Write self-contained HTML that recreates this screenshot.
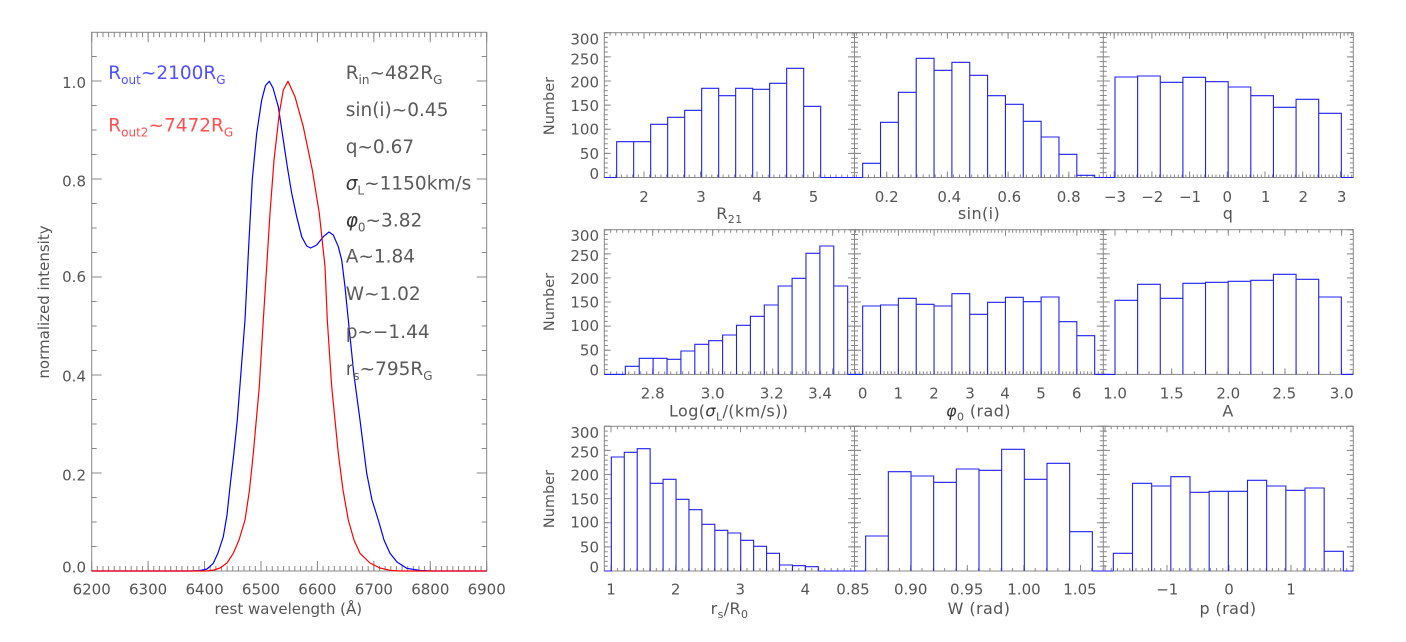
<!DOCTYPE html>
<html><head><meta charset="utf-8"><style>
html,body{margin:0;padding:0;background:#fff;}
svg{display:block;font-family:"DejaVu Sans","Liberation Sans",sans-serif;}
</style></head><body>
<svg width="1406" height="642" viewBox="0 0 1406 642" xmlns="http://www.w3.org/2000/svg">
<rect width="1406" height="642" fill="#fff"/>

<!-- ===== LEFT PLOT ===== -->
<g stroke="#888" fill="none">
<rect x="91.7" y="32.3" width="395" height="538.7" stroke-width="1"/>
<line x1="91.2" y1="568.5" x2="487.3" y2="568.5" stroke-width="5" stroke-dasharray="1 4.643"/>
<line x1="91.2" y1="566" x2="487.3" y2="566" stroke-width="10" stroke-dasharray="1 55.43"/>
<line x1="91.2" y1="34.8" x2="487.3" y2="34.8" stroke-width="5" stroke-dasharray="1 4.643"/>
<line x1="91.2" y1="37.3" x2="487.3" y2="37.3" stroke-width="10" stroke-dasharray="1 55.43"/>
<line x1="94.2" y1="571.5" x2="94.2" y2="32" stroke-width="5" stroke-dasharray="1 23.5"/>
<line x1="96.7" y1="571.5" x2="96.7" y2="32" stroke-width="10" stroke-dasharray="1 97"/>
<line x1="484.2" y1="571.5" x2="484.2" y2="32" stroke-width="5" stroke-dasharray="1 23.5"/>
<line x1="481.7" y1="571.5" x2="481.7" y2="32" stroke-width="10" stroke-dasharray="1 97"/>
</g>

<path fill="none" stroke="#0000ff" stroke-width="1.2" stroke-linejoin="round" d="M91.7,571 L190,571 L200,570.6 L207,569 L213.3,563.3 L218,553 L223.3,536.7 L227,515 L230,486.7 L234,452 L237.3,420 L241,372 L245,320 L248.5,250 L252.3,179.3 L256.7,133.3 L261.7,100 L265.5,85.5 L269.3,81.3 L273,88 L278.3,106.7 L283.3,140 L287.3,166.7 L291.7,193.3 L296.7,216.7 L301.7,236.7 L306.7,246 L310.7,248 L316.7,245 L323.3,236.7 L329,232 L333.3,235 L338.3,246.7 L341.7,260 L345,286.7 L348.3,320 L354,375.3 L360,420 L366.7,473.3 L372,500 L378.3,520 L384,540 L390,553.3 L397,562 L406.7,568.3 L420,570.5 L433,571 L486.7,571"/>
<path fill="none" stroke="#ff0000" stroke-width="1.2" stroke-linejoin="round" d="M91.7,571 L206.7,571 L214,570 L220,568 L227,563 L233.3,553.3 L239,540 L245,520 L249.5,490 L253.3,453.3 L259.3,386.7 L263.3,320 L266.7,266.7 L270,213.3 L274,160 L279.3,113.3 L283.3,90 L288,81.3 L295,96.7 L303.3,126.7 L312.3,170 L319.3,213.3 L325,266.7 L327.3,320 L331.7,386.7 L338.3,453.3 L343,490 L348.3,520 L354,540 L360,553.3 L370,563 L380,568 L390,570.3 L400,571 L486.7,571"/>

<g fill="#555" font-size="15" text-anchor="middle">
<text x="91.7" y="594.7">6200</text>
<text x="148.1" y="594.7">6300</text>
<text x="204.6" y="594.7">6400</text>
<text x="261" y="594.7">6500</text>
<text x="317.4" y="594.7">6600</text>
<text x="373.9" y="594.7">6700</text>
<text x="430.3" y="594.7">6800</text>
<text x="486.7" y="594.7">6900</text>
<text x="288.3" y="614">rest wavelength (Å)</text>
<text transform="translate(49,302) rotate(-90)">normalized intensity</text>
</g>
<g fill="#555" font-size="15" text-anchor="end">
<text x="86" y="87.9">1.0</text>
<text x="86" y="186.4">0.8</text>
<text x="86" y="282.1">0.6</text>
<text x="86" y="381.4">0.4</text>
<text x="86" y="480.4">0.2</text>
<text x="86" y="572.4">0.0</text>
</g>

<g font-size="18.5">
<text x="108.3" y="79" fill="#5050ff">R<tspan font-size="12" dy="5">out</tspan><tspan dy="-5">~2100R</tspan><tspan font-size="12" dy="5">G</tspan></text>
<text x="108.3" y="131.7" fill="#ff5050">R<tspan font-size="12" dy="5">out2</tspan><tspan dy="-5">~7472R</tspan><tspan font-size="12" dy="5">G</tspan></text>
<g fill="#5a5a5a">
<text x="345.7" y="79">R<tspan font-size="12" dy="5">in</tspan><tspan dy="-5">~482R</tspan><tspan font-size="12" dy="5">G</tspan></text>
<text x="345.7" y="116">sin(i)~0.45</text>
<text x="345.7" y="153">q~0.67</text>
<text x="345.7" y="189.5"><tspan font-style="italic" fill="#333">σ</tspan><tspan font-size="12" dy="5">L</tspan><tspan dy="-5">~1150km/s</tspan></text>
<text x="345.7" y="226.5"><tspan font-style="italic" fill="#333">φ</tspan><tspan font-size="12" dy="5">0</tspan><tspan dy="-5">~3.82</tspan></text>
<text x="345.7" y="262.5">A~1.84</text>
<text x="345.7" y="300">W~1.02</text>
<text x="345.7" y="338">p~−1.44</text>
<text x="345.7" y="375">r<tspan font-size="12" dy="5">s</tspan><tspan dy="-5">~795R</tspan><tspan font-size="12" dy="5">G</tspan></text>
</g>
</g>

<!-- ===== HISTOGRAMS ===== -->
<g stroke="#888" fill="none" stroke-width="1">
<rect x="604.3" y="32.7" width="749" height="144.8"/>
<line x1="854.5" y1="32.7" x2="854.5" y2="177.5"/>
<line x1="1103.3" y1="32.7" x2="1103.3" y2="177.5"/>
<rect x="604.3" y="229.7" width="749" height="144.7"/>
<line x1="854.5" y1="229.7" x2="854.5" y2="374.4"/>
<line x1="1103.3" y1="229.7" x2="1103.3" y2="374.4"/>
<rect x="604.3" y="426.3" width="749" height="144.7"/>
<line x1="854.5" y1="426.3" x2="854.5" y2="571"/>
<line x1="1103.3" y1="426.3" x2="1103.3" y2="571"/>
</g>

<!-- y ticks -->
<g stroke="#888" fill="none">
<line x1="606.05" y1="178" x2="606.05" y2="32.2" stroke-width="3.5" stroke-dasharray="1 3.827"/>
<line x1="854.5" y1="178" x2="854.5" y2="32.2" stroke-width="7" stroke-dasharray="1 3.827"/>
<line x1="1103.3" y1="178" x2="1103.3" y2="32.2" stroke-width="7" stroke-dasharray="1 3.827"/>
<line x1="1351.55" y1="178" x2="1351.55" y2="32.2" stroke-width="3.5" stroke-dasharray="1 3.827"/>
<line x1="607.55" y1="178" x2="607.55" y2="32.2" stroke-width="6.5" stroke-dasharray="1 23.13"/>
<line x1="854.5" y1="178" x2="854.5" y2="32.2" stroke-width="13" stroke-dasharray="1 23.13"/>
<line x1="1103.3" y1="178" x2="1103.3" y2="32.2" stroke-width="13" stroke-dasharray="1 23.13"/>
<line x1="1350.05" y1="178" x2="1350.05" y2="32.2" stroke-width="6.5" stroke-dasharray="1 23.13"/>

<line x1="606.05" y1="374.9" x2="606.05" y2="229.2" stroke-width="3.5" stroke-dasharray="1 3.823"/>
<line x1="854.5" y1="374.9" x2="854.5" y2="229.2" stroke-width="7" stroke-dasharray="1 3.823"/>
<line x1="1103.3" y1="374.9" x2="1103.3" y2="229.2" stroke-width="7" stroke-dasharray="1 3.823"/>
<line x1="1351.55" y1="374.9" x2="1351.55" y2="229.2" stroke-width="3.5" stroke-dasharray="1 3.823"/>
<line x1="607.55" y1="374.9" x2="607.55" y2="229.2" stroke-width="6.5" stroke-dasharray="1 23.117"/>
<line x1="854.5" y1="374.9" x2="854.5" y2="229.2" stroke-width="13" stroke-dasharray="1 23.117"/>
<line x1="1103.3" y1="374.9" x2="1103.3" y2="229.2" stroke-width="13" stroke-dasharray="1 23.117"/>
<line x1="1350.05" y1="374.9" x2="1350.05" y2="229.2" stroke-width="6.5" stroke-dasharray="1 23.117"/>

<line x1="606.05" y1="571.5" x2="606.05" y2="425.8" stroke-width="3.5" stroke-dasharray="1 3.823"/>
<line x1="854.5" y1="571.5" x2="854.5" y2="425.8" stroke-width="7" stroke-dasharray="1 3.823"/>
<line x1="1103.3" y1="571.5" x2="1103.3" y2="425.8" stroke-width="7" stroke-dasharray="1 3.823"/>
<line x1="1351.55" y1="571.5" x2="1351.55" y2="425.8" stroke-width="3.5" stroke-dasharray="1 3.823"/>
<line x1="607.55" y1="571.5" x2="607.55" y2="425.8" stroke-width="6.5" stroke-dasharray="1 23.117"/>
<line x1="854.5" y1="571.5" x2="854.5" y2="425.8" stroke-width="13" stroke-dasharray="1 23.117"/>
<line x1="1103.3" y1="571.5" x2="1103.3" y2="425.8" stroke-width="13" stroke-dasharray="1 23.117"/>
<line x1="1350.05" y1="571.5" x2="1350.05" y2="425.8" stroke-width="6.5" stroke-dasharray="1 23.117"/>
</g>

<!-- x ticks -->
<g stroke="#888" fill="none">
<!-- row1 -->
<line x1="603.95" y1="176" x2="854.5" y2="176" stroke-width="3" stroke-dasharray="1 4.65"/>
<line x1="643.5" y1="174.5" x2="854.5" y2="174.5" stroke-width="6" stroke-dasharray="1 55.5"/>
<line x1="603.95" y1="34.2" x2="854.5" y2="34.2" stroke-width="3" stroke-dasharray="1 4.65"/>
<line x1="643.5" y1="35.7" x2="854.5" y2="35.7" stroke-width="6" stroke-dasharray="1 55.5"/>
<line x1="855.85" y1="176" x2="1103.3" y2="176" stroke-width="3" stroke-dasharray="1 5.07"/>
<line x1="886.2" y1="174.5" x2="1103.3" y2="174.5" stroke-width="6" stroke-dasharray="1 59.7"/>
<line x1="855.85" y1="34.2" x2="1103.3" y2="34.2" stroke-width="3" stroke-dasharray="1 5.07"/>
<line x1="886.2" y1="35.7" x2="1103.3" y2="35.7" stroke-width="6" stroke-dasharray="1 59.7"/>
<line x1="1106.16" y1="176" x2="1353.3" y2="176" stroke-width="3" stroke-dasharray="1 2.77"/>
<line x1="1113.7" y1="174.5" x2="1353.3" y2="174.5" stroke-width="6" stroke-dasharray="1 36.7"/>
<line x1="1106.16" y1="34.2" x2="1353.3" y2="34.2" stroke-width="3" stroke-dasharray="1 2.77"/>
<line x1="1113.7" y1="35.7" x2="1353.3" y2="35.7" stroke-width="6" stroke-dasharray="1 36.7"/>
<!-- row2 -->
<line x1="604.2" y1="372.9" x2="854.5" y2="372.9" stroke-width="3" stroke-dasharray="1 5"/>
<line x1="652.2" y1="371.4" x2="854.5" y2="371.4" stroke-width="6" stroke-dasharray="1 59"/>
<line x1="604.2" y1="231.2" x2="854.5" y2="231.2" stroke-width="3" stroke-dasharray="1 5"/>
<line x1="652.2" y1="232.7" x2="854.5" y2="232.7" stroke-width="6" stroke-dasharray="1 59"/>
<line x1="855.06" y1="372.9" x2="1103.3" y2="372.9" stroke-width="3" stroke-dasharray="1 2.57"/>
<line x1="862.2" y1="371.4" x2="1103.3" y2="371.4" stroke-width="6" stroke-dasharray="1 34.7"/>
<line x1="855.06" y1="231.2" x2="1103.3" y2="231.2" stroke-width="3" stroke-dasharray="1 2.57"/>
<line x1="862.2" y1="232.7" x2="1103.3" y2="232.7" stroke-width="6" stroke-dasharray="1 34.7"/>
<line x1="1103.17" y1="372.9" x2="1353.3" y2="372.9" stroke-width="3" stroke-dasharray="1 10.33"/>
<line x1="1114.5" y1="371.4" x2="1353.3" y2="371.4" stroke-width="6" stroke-dasharray="1 55.65"/>
<line x1="1103.17" y1="231.2" x2="1353.3" y2="231.2" stroke-width="3" stroke-dasharray="1 10.33"/>
<line x1="1114.5" y1="232.7" x2="1353.3" y2="232.7" stroke-width="6" stroke-dasharray="1 55.65"/>
<!-- row3 -->
<line x1="604.02" y1="569.5" x2="854.5" y2="569.5" stroke-width="3" stroke-dasharray="1 5.477"/>
<line x1="610.5" y1="568" x2="854.5" y2="568" stroke-width="6" stroke-dasharray="1 63.77"/>
<line x1="604.02" y1="427.8" x2="854.5" y2="427.8" stroke-width="3" stroke-dasharray="1 5.477"/>
<line x1="610.5" y1="429.3" x2="854.5" y2="429.3" stroke-width="6" stroke-dasharray="1 63.77"/>
<line x1="864.92" y1="569.5" x2="1103.3" y2="569.5" stroke-width="3" stroke-dasharray="1 10.32"/>
<line x1="910.2" y1="568" x2="1103.3" y2="568" stroke-width="6" stroke-dasharray="1 55.6"/>
<line x1="864.92" y1="427.8" x2="1103.3" y2="427.8" stroke-width="3" stroke-dasharray="1 10.32"/>
<line x1="910.2" y1="429.3" x2="1103.3" y2="429.3" stroke-width="6" stroke-dasharray="1 55.6"/>
<line x1="1104.5" y1="569.5" x2="1353.3" y2="569.5" stroke-width="3" stroke-dasharray="1 5.2"/>
<line x1="1104.5" y1="568" x2="1353.3" y2="568" stroke-width="6" stroke-dasharray="1 61"/>
<line x1="1104.5" y1="427.8" x2="1353.3" y2="427.8" stroke-width="3" stroke-dasharray="1 5.2"/>
<line x1="1104.5" y1="429.3" x2="1353.3" y2="429.3" stroke-width="6" stroke-dasharray="1 61"/>
</g>

<!-- histogram bars -->
<g fill="none" stroke="#2020f0" stroke-width="1.1">
<path d="M604.3,177.5H616.67 M616.67,177.5V141.67H633.67V177.5 M633.67,177.5V141.67H650.67V177.5 M650.67,177.5V124.33H667.67V177.5 M667.67,177.5V117.33H684.67V177.5 M684.67,177.5V110.33H701.67V177.5 M701.67,177.5V88.33H718.67V177.5 M718.67,177.5V95.67H735.67V177.5 M735.67,177.5V88.33H752.67V177.5 M752.67,177.5V89.33H769.67V177.5 M769.67,177.5V83.33H786.67V177.5 M786.67,177.5V68.33H803.67V177.5 M803.67,177.5V106.33H820.67V177.5 M820.67,177.5H854.5"/>
<path d="M854.5,177.5H862.67 M862.67,177.5V163.33H880.52V177.5 M880.52,177.5V122.33H898.36V177.5 M898.36,177.5V92.33H916.21V177.5 M916.21,177.5V58.33H934.05V177.5 M934.05,177.5V70.33H951.9V177.5 M951.9,177.5V62.33H969.74V177.5 M969.74,177.5V75.33H987.59V177.5 M987.59,177.5V95.67H1005.44V177.5 M1005.44,177.5V104.33H1023.28V177.5 M1023.28,177.5V121.33H1041.13V177.5 M1041.13,177.5V137H1058.97V177.5 M1058.97,177.5V154.33H1076.82V177.5 M1076.82,177.5V175.33H1094.67V177.5 M1094.67,177.5H1103.3"/>
<path d="M1103.3,177.5H1115 M1115,177.5V77H1137.63V177.5 M1137.63,177.5V76H1160.27V177.5 M1160.27,177.5V82.33H1182.9V177.5 M1182.9,177.5V77.33H1205.53V177.5 M1205.53,177.5V81.67H1228.17V177.5 M1228.17,177.5V87H1250.8V177.5 M1250.8,177.5V95.67H1273.43V177.5 M1273.43,177.5V107.33H1296.07V177.5 M1296.07,177.5V99.33H1318.7V177.5 M1318.7,177.5V113.33H1341.33V177.5 M1341.33,177.5H1353.3"/>

<path d="M604.3,374.4H625.33 M625.33,374.4V366.33H639.23V374.4 M639.23,374.4V358.33H653.12V374.4 M653.12,374.4V358.33H667.02V374.4 M667.02,374.4V359.33H680.92V374.4 M680.92,374.4V351H694.81V374.4 M694.81,374.4V344.33H708.71V374.4 M708.71,374.4V340.67H722.6V374.4 M722.6,374.4V335H736.5V374.4 M736.5,374.4V325.33H750.4V374.4 M750.4,374.4V316.33H764.29V374.4 M764.29,374.4V305H778.19V374.4 M778.19,374.4V286H792.08V374.4 M792.08,374.4V278.33H805.98V374.4 M805.98,374.4V253.33H819.88V374.4 M819.88,374.4V246H833.77V374.4 M833.77,374.4V286H847.67V374.4 M847.67,374.4H854.5"/>
<path d="M854.5,374.4H862.67 M862.67,374.4V306H880.52V374.4 M880.52,374.4V305H898.36V374.4 M898.36,374.4V298.33H916.21V374.4 M916.21,374.4V304.33H934.05V374.4 M934.05,374.4V306H951.9V374.4 M951.9,374.4V293.67H969.74V374.4 M969.74,374.4V314.33H987.59V374.4 M987.59,374.4V302.33H1005.44V374.4 M1005.44,374.4V297.33H1023.28V374.4 M1023.28,374.4V301.67H1041.13V374.4 M1041.13,374.4V297H1058.97V374.4 M1058.97,374.4V321.67H1076.82V374.4 M1076.82,374.4V335.67H1094.67V374.4 M1094.67,374.4H1103.3"/>
<path d="M1103.3,374.4H1115 M1115,374.4V300.33H1137.63V374.4 M1137.63,374.4V284.33H1160.27V374.4 M1160.27,374.4V298.33H1182.9V374.4 M1182.9,374.4V283.33H1205.53V374.4 M1205.53,374.4V282.33H1228.17V374.4 M1228.17,374.4V281.33H1250.8V374.4 M1250.8,374.4V280.33H1273.43V374.4 M1273.43,374.4V274.33H1296.07V374.4 M1296.07,374.4V279.33H1318.7V374.4 M1318.7,374.4V297H1341.33V374.4 M1341.33,374.4H1353.3"/>

<path d="M604.3,571H611.33 M611.33,571V457H624.27V571 M624.27,571V452.33H637.21V571 M637.21,571V448.67H650.14V571 M650.14,571V483.33H663.08V571 M663.08,571V479.33H676.02V571 M676.02,571V499.33H688.96V571 M688.96,571V509.67H701.89V571 M701.89,571V524.33H714.83V571 M714.83,571V530.33H727.77V571 M727.77,571V533H740.71V571 M740.71,571V540.33H753.64V571 M753.64,571V546.33H766.58V571 M766.58,571V553.33H779.52V571 M779.52,571V565H792.46V571 M792.46,571V565.67H805.39V571 M805.39,571V566.67H818.33V571 M818.33,571H854.5"/>
<path d="M854.5,571H865.67 M865.67,571V536H888.33V571 M888.33,571V471.67H911V571 M911,571V476H933.67V571 M933.67,571V482.33H956.33V571 M956.33,571V469H979V571 M979,571V470.33H1001.67V571 M1001.67,571V449.33H1024.33V571 M1024.33,571V479.33H1047V571 M1047,571V463.33H1069.67V571 M1069.67,571V531.67H1092.33V571 M1092.33,571H1103.3"/>
<path d="M1103.3,571H1113.33 M1113.33,571V553.33H1132.5V571 M1132.5,571V483.33H1151.67V571 M1151.67,571V486H1170.83V571 M1170.83,571V476.67H1190V571 M1190,571V492.33H1209.17V571 M1209.17,571V491.33H1228.33V571 M1228.33,571V491.33H1247.5V571 M1247.5,571V480.33H1266.67V571 M1266.67,571V486H1285.83V571 M1285.83,571V490.33H1305V571 M1305,571V488H1324.17V571 M1324.17,571V551.33H1343.33V571 M1343.33,571H1353.3"/>
</g>

<!-- histogram y labels -->
<g fill="#555" font-size="15" text-anchor="end">
<text x="599" y="44.6">300</text><text x="599" y="64.4">250</text><text x="599" y="87.4">200</text><text x="599" y="111.1">150</text><text x="599" y="134.4">100</text><text x="599" y="159.1">50</text><text x="599" y="179.1">0</text>
<text x="599" y="241.1">300</text><text x="599" y="260.9">250</text><text x="599" y="283.9">200</text><text x="599" y="307.6">150</text><text x="599" y="330.9">100</text><text x="599" y="355.6">50</text><text x="599" y="375.6">0</text>
<text x="599" y="437.9">300</text><text x="599" y="457.7">250</text><text x="599" y="480.7">200</text><text x="599" y="504.4">150</text><text x="599" y="527.7">100</text><text x="599" y="552.4">50</text><text x="599" y="572.4">0</text>
</g>

<!-- histogram x labels -->
<g fill="#555" font-size="15" text-anchor="middle">
<text x="644" y="202">2</text><text x="701" y="202">3</text><text x="757" y="202">4</text><text x="813.5" y="202">5</text>
<text x="886.7" y="202">0.2</text><text x="949.3" y="202">0.4</text><text x="1009.3" y="202">0.6</text><text x="1068.7" y="202">0.8</text>
<text x="1115" y="202">−3</text><text x="1152.3" y="202">−2</text><text x="1190" y="202">−1</text><text x="1227.3" y="202">0</text><text x="1265.7" y="202">1</text><text x="1303.3" y="202">2</text><text x="1341.7" y="202">3</text>

<text x="652.7" y="398.7">2.8</text><text x="712.7" y="398.7">3.0</text><text x="771.7" y="398.7">3.2</text><text x="820" y="398.7">3.4</text>
<text x="862.7" y="398.7">0</text><text x="898.3" y="398.7">1</text><text x="934" y="398.7">2</text><text x="970" y="398.7">3</text><text x="1005" y="398.7">4</text><text x="1041" y="398.7">5</text><text x="1076.7" y="398.7">6</text>
<text x="1115" y="398.7">1.0</text><text x="1171.7" y="398.7">1.5</text><text x="1228.3" y="398.7">2.0</text><text x="1284.3" y="398.7">2.5</text><text x="1341.7" y="398.7">3.0</text>

<text x="611" y="594.4">1</text><text x="675.7" y="594.4">2</text><text x="740.3" y="594.4">3</text><text x="805.3" y="594.4">4</text>
<text x="853" y="594.4">0.85</text><text x="910.7" y="594.4">0.90</text><text x="966.7" y="594.4">0.95</text><text x="1024" y="594.4">1.00</text><text x="1080" y="594.4">1.05</text>
<text x="1167.3" y="594.4">−1</text><text x="1229" y="594.4">0</text><text x="1291" y="594.4">1</text>
</g>

<!-- axis titles -->
<g fill="#555" font-size="16" text-anchor="middle" letter-spacing="0.4">
<text x="729.4" y="219">R<tspan font-size="11" dy="4">21</tspan></text>
<text x="979" y="219">sin(i)</text>
<text x="1228" y="219">q</text>
<text x="728.7" y="416.5">Log(<tspan font-style="italic" fill="#333">σ</tspan><tspan font-size="11" dy="4">L</tspan><tspan dy="-4">/(km/s))</tspan></text>
<text x="978.5" y="416.5"><tspan font-style="italic" fill="#333">φ</tspan><tspan font-size="11" dy="4">0</tspan><tspan dy="-4"> (rad)</tspan></text>
<text x="1228" y="416.5">A</text>
<text x="729.5" y="614">r<tspan font-size="11" dy="4">s</tspan><tspan dy="-4">/R</tspan><tspan font-size="11" dy="4">0</tspan></text>
<text x="979" y="614">W (rad)</text>
<text x="1228" y="614">p (rad)</text>
</g>
<g fill="#555" font-size="14.5" text-anchor="middle">
<text transform="translate(554,106) rotate(-90)">Number</text>
<text transform="translate(554,302) rotate(-90)">Number</text>
<text transform="translate(554,499) rotate(-90)">Number</text>
</g>
</svg>
</body></html>
